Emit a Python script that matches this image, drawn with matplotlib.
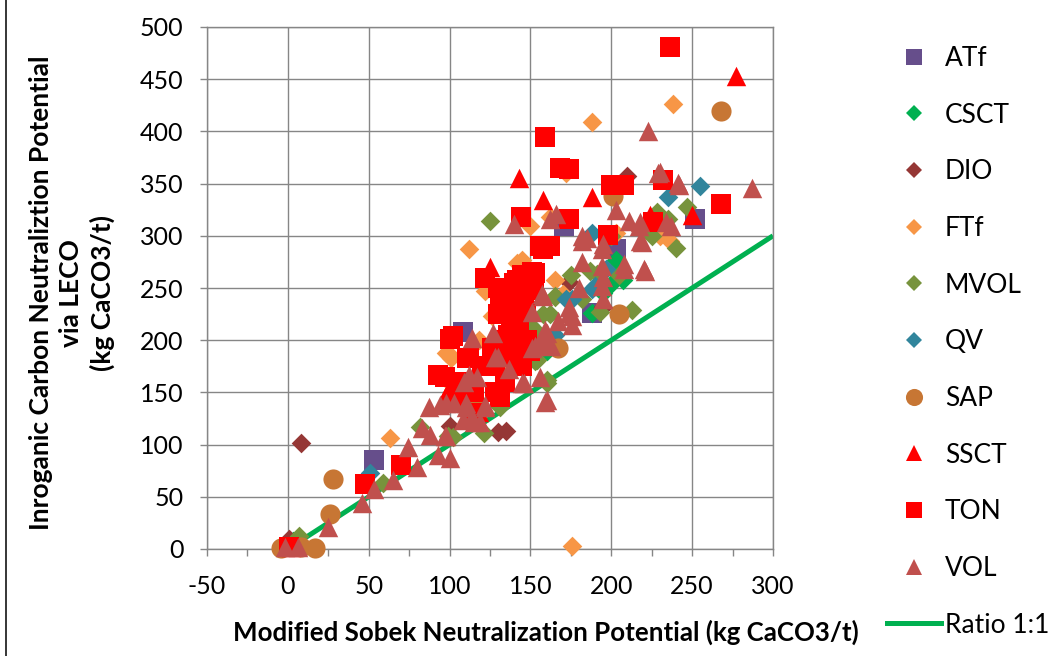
import matplotlib
matplotlib.use("Agg")
import matplotlib.pyplot as plt
from matplotlib.lines import Line2D
from matplotlib.ticker import MultipleLocator

plt.rcParams['font.family'] = ['Lato', 'DejaVu Sans']
plt.rcParams['axes.unicode_minus'] = False

# ---- data: (Modified Sobek NP, Inorganic carbon NP), kg CaCO3/t ----
atf_x = [108, 53, 252, 188, 203, 171, 145]
atf_y = [208, 85, 316, 226, 287, 309, 205]

csct_x = [203, 205, 199, 207, 195, 160, 3, 188, 150]
csct_y = [277, 262, 253, 258, 245, 190, 8, 226, 215]

dio_x = [210, 8, 135, 174, 100, 1, 195, 130]
dio_y = [357, 102, 113, 256, 118, 10, 232, 112]

ftf_x = [238, 188, 112, 176, 172, 63, 142, 122, 126, 100, 100, 165, 143, 98,
         236, 203, 150, 162, 145, 101, 230, 170, 118, 135]
ftf_y = [426, 409, 287, 3, 360, 106, 274, 247, 223, 186, 159, 258, 201, 188,
         295, 303, 309, 318, 277, 183, 300, 244, 200, 180]

mvol_x = [125, 247, 240, 228, 235, 187, 165, 182, 193, 213, 158, 150, 165, 162,
          153, 153, 160, 131, 121, 102, 191, 82, 99, 59, 7, 141, 154, 160, 200,
          225, 175, 205]
mvol_y = [314, 328, 288, 323, 316, 266, 241, 239, 227, 229, 225, 212, 242, 225,
          210, 180, 162, 136, 111, 107, 263, 117, 108, 63, 12, 180, 181, 159,
          300, 300, 262, 262]

qv_x = [255, 235, 176, 190, 172, 188, 188, 51, 197, 165]
qv_y = [348, 337, 239, 252, 239, 249, 303, 73, 268, 205]

sap_x = [268, 28, 26, -4, 17, 205, 167, 201, 116, 8]
sap_y = [420, 67, 34, 1, 1, 225, 193, 338, 141, 2]

ssct_x = [277, 143, 158, 188, 224, 250, 2, 99, 104, 97, 125, 135, 118, 106]
ssct_y = [453, 355, 334, 337, 320, 320, 2, 151, 159, 146, 270, 215, 131, 150]

ton_x = [236, 159, 168, 174, 232, 200, 208, 268, 144, 174, 226, 198, 156, 162,
         122, 102, 93, 70, 48, 1, 111, 131, 134, 137, 133, 137, 138, 97, 130,
         140, 145, 135, 140, 147, 130, 143, 132, 140, 150, 145, 128, 120, 108,
         115, 128, 106, 115, 100, 112, 158, 151, 153, 142, 146, 138, 143, 148,
         136, 141, 126, 131, 152]
ton_y = [481, 395, 365, 364, 353, 349, 349, 330, 318, 316, 313, 301, 290, 290,
         260, 204, 167, 80, 62, 2, 183, 146, 160, 184, 246, 232, 217, 165, 250,
         255, 262, 240, 222, 228, 225, 208, 200, 195, 190, 175, 175, 175, 160,
         150, 150, 140, 130, 201, 183, 287, 265, 264, 258, 245, 236, 212, 200,
         205, 190, 193, 238, 248]

vol_x = [-2, 6, 25, 46, 53, 65, 80, 74, 93, 100, 88, 97, 83, 87, 94, 103, 110,
         122, 108, 114, 119, 114, 127, 112, 109, 128, 158, 151, 159, 156, 160,
         151, 146, 156, 159, 130, 137, 98, 110, 122, 98, 167, 174, 176, 180,
         194, 195, 195, 208, 221, 157, 194, 194, 208, 174, 176, 160, 182, 230,
         241, 203, 166, 162, 211, 218, 234, 182, 195, 218, 223, 287, 229, 242,
         140, 217, 237, 219, 185, 145, 160, 117, 115, 153, 163, 220, 182]
vol_y = [2, 2, 21, 44, 57, 66, 79, 98, 90, 87, 109, 108, 116, 136, 138, 140, 140,
         138, 124, 126, 122, 202, 207, 167, 160, 184, 242, 227, 210, 199, 196,
         193, 159, 165, 141, 184, 172, 140, 136, 136, 108, 218, 226, 215, 250,
         252, 239, 261, 268, 266, 244, 287, 271, 273, 232, 223, 207, 295, 361,
         351, 325, 321, 316, 314, 313, 313, 300, 292, 295, 400, 346, 360, 349,
         311, 309, 309, 294, 298, 159, 143, 165, 122, 194, 194, 268, 275]

ratio_x = [0, 300]
ratio_y = [0, 300]

series = [
    ("ATf", atf_x, atf_y, "s", "#664E8B", 14.0),
    ("CSCT", csct_x, csct_y, "D", "#00B050", 10.0),
    ("DIO", dio_x, dio_y, "D", "#953735", 10.0),
    ("FTf", ftf_x, ftf_y, "D", "#F79646", 10.0),
    ("MVOL", mvol_x, mvol_y, "D", "#77933C", 10.0),
    ("QV", qv_x, qv_y, "D", "#31859C", 10.0),
    ("SAP", sap_x, sap_y, "o", "#C77634", 14.5),
    ("SSCT", ssct_x, ssct_y, "^", "#FF0000", 14.0),
    ("TON", ton_x, ton_y, "s", "#FF0000", 14.0),
    ("VOL", vol_x, vol_y, "^", "#C0504D", 14.0),
]

fig = plt.figure(figsize=(10.48, 6.56), dpi=100)
ax = fig.add_axes([207 / 1048, 1 - 549 / 656, (773 - 207) / 1048, (549 - 27) / 656])

# chart-area border on the left edge
fig.add_artist(Line2D([5.5 / 1048, 5.5 / 1048], [0, 1], color="black", lw=1.1,
                      transform=fig.transFigure))

grid_c = "#868686"
ax.plot(ratio_x, ratio_y, color="#00B050", lw=3.6, zorder=2, solid_capstyle="butt")

for i, (name, xs, ys, mk, col, ms) in enumerate(series):
    ax.scatter(xs, ys, s=ms ** 2, marker=mk, color=col, linewidths=0,
               zorder=3 + i, clip_on=False)

ax.set_xlim(-50, 300)
ax.set_ylim(0, 500)
ax.xaxis.set_major_locator(MultipleLocator(50))
ax.xaxis.set_minor_locator(MultipleLocator(25))
ax.yaxis.set_major_locator(MultipleLocator(50))
ax.grid(True, which="major", color=grid_c, lw=1.0, zorder=0)
ax.set_axisbelow(True)
for sp in ax.spines.values():
    sp.set_color(grid_c)
    sp.set_linewidth(1.0)
ax.tick_params(axis="both", which="both", direction="out", color=grid_c,
               width=1.0, labelsize=18, labelcolor="black")
ax.tick_params(axis="x", which="major", length=5, pad=14)
ax.tick_params(axis="x", which="minor", length=5)
ax.tick_params(axis="y", which="major", length=5, pad=12)

ax.set_xlabel("Modified Sobek Neutralization Potential (kg CaCO3/t)",
              fontsize=18.6, fontweight="bold")
ax.xaxis.set_label_coords((546 - 207) / 566, (549 - 632) / 522)
ax.xaxis.label.set_va("center")
ax.set_ylabel("Inroganic Carbon Neutraliztion Potential\nvia LECO\n(kg CaCO3/t)",
              fontsize=19, fontweight="bold", linespacing=1.3)
ax.yaxis.set_label_coords((72 - 207) / 566, 0.49)
ax.yaxis.label.set_va("center")

handles = []
for name, xs, ys, mk, col, ms in series:
    handles.append(Line2D([], [], ls="none", marker=mk, color=col,
                          markersize=ms * 0.85, markeredgewidth=0, label=name))
handles.append(Line2D([], [], color="#00B050", lw=3.6, label="Ratio 1:1"))
fig.legend(handles=handles, loc="upper left", bbox_to_anchor=(887 / 1048, 1 - 46 / 656),
           frameon=False, fontsize=19, handlelength=2.05, handletextpad=0.15,
           labelspacing=1.2, borderaxespad=0, borderpad=0)

fig.savefig("out.png", dpi=100)
